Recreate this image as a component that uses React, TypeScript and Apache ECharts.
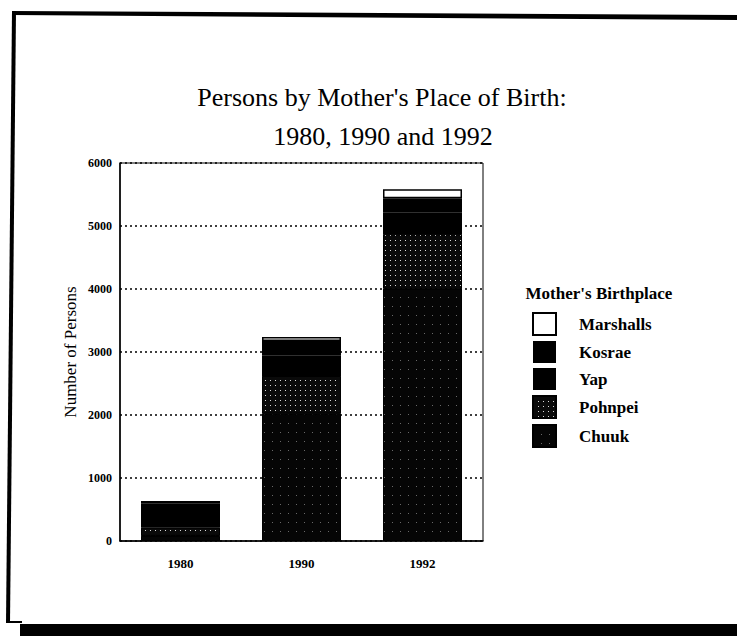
import React, { useEffect, useRef } from "react";
import * as echarts from "echarts";

const years = ["1980", "1990", "1992"];
const chuuk = [80, 2020, 4010];
const pohnpei = [130, 600, 860];
const yap = [220, 320, 340];
const kosrae = [160, 235, 230];
const marshalls = [45, 65, 145];
const yTicks = [0, 1000, 2000, 3000, 4000, 5000, 6000];

const SERIF = '"Liberation Serif", "Times New Roman", serif';

export default function App() {
  const ref = useRef<HTMLDivElement>(null);
  useEffect(() => {
    if (!ref.current) return;
    const chart = echarts.init(ref.current, null, { renderer: "svg" });
    const base = {
      type: "bar",
      stack: "total",
      barWidth: 79,
      itemStyle: { borderColor: "#000", borderWidth: 1 },
    };
    chart.setOption({
      animation: false,
      backgroundColor: "#fff",
      title: [
        {
          text: "Persons by Mother's Place of Birth:",
          left: 377,
          textAlign: "center",
          top: 79,
          textStyle: { fontFamily: SERIF, fontSize: 26, fontWeight: "normal", color: "#000" },
        },
        {
          text: "1980, 1990 and 1992",
          left: 378,
          textAlign: "center",
          top: 118,
          textStyle: { fontFamily: SERIF, fontSize: 26, fontWeight: "normal", color: "#000" },
        },
        {
          text: "Mother's Birthplace",
          left: 594,
          textAlign: "center",
          top: 280,
          textStyle: { fontFamily: SERIF, fontSize: 17, fontWeight: "bold", color: "#000" },
        },
      ],
      legend: {
        orient: "vertical",
        left: 527,
        top: 307,
        itemWidth: 23,
        itemHeight: 22,
        itemGap: 5,
        icon: "rect",
        data: ["Marshalls", "Kosrae", "Yap", "Pohnpei", "Chuuk"],
        textStyle: {
          fontFamily: SERIF,
          fontSize: 17,
          fontWeight: "bold",
          color: "#000",
          padding: [0, 0, 0, 18],
        },
      },
      grid: {
        left: 120,
        right: 254,
        top: 163,
        bottom: 95,
        show: true,
        borderColor: "#000",
        borderWidth: 1,
        backgroundColor: "transparent",
      },
      xAxis: {
        type: "category",
        data: years,
        axisLine: { lineStyle: { color: "#000", width: 1.5 } },
        axisTick: { alignWithLabel: true, length: 7, lineStyle: { color: "#000", width: 1.5 } },
        axisLabel: {
          fontFamily: SERIF,
          fontSize: 13,
          fontWeight: "bold",
          color: "#000",
          margin: 16,
        },
      },
      yAxis: {
        type: "value",
        min: yTicks[0],
        max: yTicks[yTicks.length - 1],
        interval: 1000,
        name: "Number of Persons",
        nameLocation: "middle",
        nameGap: 41,
        nameTextStyle: { fontFamily: SERIF, fontSize: 17, color: "#000" },
        axisLine: { show: true, lineStyle: { color: "#000", width: 1.5 } },
        axisTick: { show: false },
        axisLabel: {
          fontFamily: SERIF,
          fontSize: 12,
          fontWeight: "bold",
          color: "#000",
          margin: 8,
          formatter: (v: number) => String(v),
        },
        splitLine: { show: true, lineStyle: { color: "#000", type: [2, 3], width: 1.5 } },
      },
      series: [
        {
          ...base,
          name: "Chuuk",
          data: chuuk,
          itemStyle: {
            ...base.itemStyle,
            color: "#050505",
            decal: {
              symbol: "rect",
              symbolSize: 1,
              color: "rgba(130,130,130,0.8)",
              dashArrayX: [1, 7],
              dashArrayY: [1, 8],
            },
          },
        },
        {
          ...base,
          name: "Pohnpei",
          data: pohnpei,
          itemStyle: {
            ...base.itemStyle,
            color: "#0a0a0a",
            decal: {
              symbol: "rect",
              symbolSize: 1,
              color: "rgba(240,240,240,0.9)",
              dashArrayX: [1, 4],
              dashArrayY: [1, 4],
            },
          },
        },
        { ...base, name: "Yap", data: yap, itemStyle: { color: "#000", borderWidth: 0 } },
        { ...base, name: "Kosrae", data: kosrae, itemStyle: { color: "#000", borderWidth: 0 } },
        {
          ...base,
          name: "Marshalls",
          data: marshalls,
          itemStyle: { ...base.itemStyle, color: "#fff", borderWidth: 1.5 },
        },
      ],
      graphic: [
        {
          type: "polygon",
          shape: { points: [[12, 11], [737, 15], [737, 20], [12, 15]] },
          style: { fill: "#000" },
        },
        {
          type: "polygon",
          shape: { points: [[12, 11], [16, 11], [10, 623], [6, 623]] },
          style: { fill: "#000" },
        },
        {
          type: "line",
          shape: { x1: 6, y1: 622, x2: 22, y2: 622 },
          style: { stroke: "#000", lineWidth: 2 },
        },
        {
          type: "rect",
          shape: { x: 20, y: 624, width: 717, height: 12 },
          style: { fill: "#000" },
        },
      ],
    });
    return () => chart.dispose();
  }, []);
  return (
    <div
      ref={ref}
      style={{ position: "fixed", left: 0, top: 0, width: 737, height: 636, background: "#fff" }}
    />
  );
}
